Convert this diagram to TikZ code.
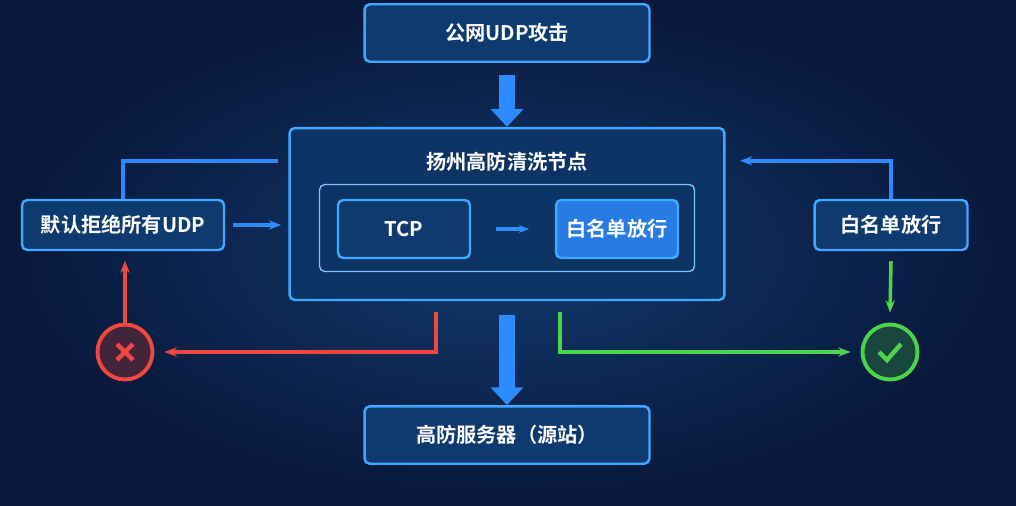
\documentclass[tikz,border=0pt]{standalone}
\usepackage{fontspec}
\newfontfamily\cjk{Noto Sans CJK SC}[BoldFont={Noto Sans CJK SC Bold}]
\usetikzlibrary{arrows.meta,positioning,calc}
\definecolor{bgdark}{HTML}{08183A}
\definecolor{bgmid}{HTML}{123A6E}
\definecolor{panel}{HTML}{0F3A70}
\definecolor{edge}{HTML}{3FA9FF}
\definecolor{flow}{HTML}{2E8BFF}
\definecolor{denyred}{HTML}{F0483E}
\definecolor{okgreen}{HTML}{4CD44C}
\tikzset{
  card/.style={draw=edge, line width=1.4pt, fill=panel, rounded corners=3pt, text=white, font=\cjk\bfseries\fontsize{11.5}{13}\selectfont},
  flowline/.style={draw=flow, line width=2pt},
  bigarrow/.style={-{Triangle[length=10pt,width=18pt]}, line width=9pt, draw=flow},
}
\begin{document}
\begin{tikzpicture}[x=0.02cm, y=-0.02cm]
    \useasboundingbox (0,0) rectangle (1016,505);
    \shade[inner color=bgmid, outer color=bgdark] (0,0) rectangle (1016,505);

    % top and bottom boxes
    \node[card, minimum width=5.7cm, minimum height=1.15cm] (attack) at (507,33) {公网UDP攻击};
    \node[card, minimum width=5.7cm, minimum height=1.15cm] (origin) at (507,435) {高防服务器（源站）};

    % cleaning node
    \node[card, fill=panel!80!bgdark, minimum width=8.7cm, minimum height=3.44cm] (clean) at (507,214) {};
    \node[text=white, font=\cjk\bfseries\fontsize{11.5}{13}\selectfont] (title) at (507,162) {扬州高防清洗节点};
    \node[draw=edge!70, line width=0.8pt, rounded corners=3pt, minimum width=7.5cm, minimum height=1.74cm] (inner) at (507,228) {};
    \node[card, minimum width=2.64cm, minimum height=1.16cm] (tcp) at (404,229) {TCP};
    \node[card, fill=flow!80!panel, minimum width=2.44cm, minimum height=1.16cm] (white) at (617,229) {白名单放行};
    \draw[flowline, -{Stealth[length=6pt]}] (tcp.east) ++(25,0) -- ++(33,0);

    % side boxes
    \node[card, minimum width=4.04cm, minimum height=1cm] (deny) at (123,225) {默认拒绝所有UDP};
    \node[card, minimum width=3.06cm, minimum height=1cm] (pass) at (891,225) {白名单放行};

    % outcome icons
    \node[circle, draw=denyred, fill=denyred!25!bgdark, line width=2.2pt, minimum size=1.1cm] (no) at (125,352) {};
    \draw[denyred, line width=2.5pt] ($(no)+(-8,-8)$) -- ($(no)+(8,8)$) ($(no)+(-8,8)$) -- ($(no)+(8,-8)$);
    \node[circle, draw=okgreen, fill=okgreen!25!bgdark, line width=2.2pt, minimum size=1.1cm] (yes) at (890,352) {};
    \draw[okgreen, line width=2.5pt] ($(yes)+(-11,0)$) -- ($(yes)+(-3,8)$) -- ($(yes)+(11,-8)$);

    % main flow
    \draw[bigarrow] (attack.south) ++(0,12) -- (clean.north);
    \draw[bigarrow] (clean.south) ++(0,14) -- (origin.north);

    % side connectors
    \draw[flowline, -{Stealth[length=7pt]}] (deny.east) ++(8,0) -- ++(48,0);
    \draw[flowline] (deny.north) -- ++(0,-38) -- ++(155,0);
    \draw[flowline, -{Stealth[length=7pt]}] (pass.north) -- ++(0,-38) -- ++(-151,0);
    \draw[denyred, line width=2pt, -{Stealth[length=7pt]}] (no.north) -- ++(0,-62);
    \draw[denyred, line width=2pt, -{Stealth[length=7pt]}] (436,312) -- (436,352) -- ($(no.east)+(10,0)$);
    \draw[okgreen, line width=2pt, -{Stealth[length=7pt]}] (560,312) -- (560,352) -- ($(yes.west)+(-10,0)$);
    \draw[okgreen, line width=2pt, -{Stealth[length=7pt]}] ($(pass.south)+(0,10)$) -- ($(yes.north)+(0,-10)$);
\end{tikzpicture}
\end{document}
